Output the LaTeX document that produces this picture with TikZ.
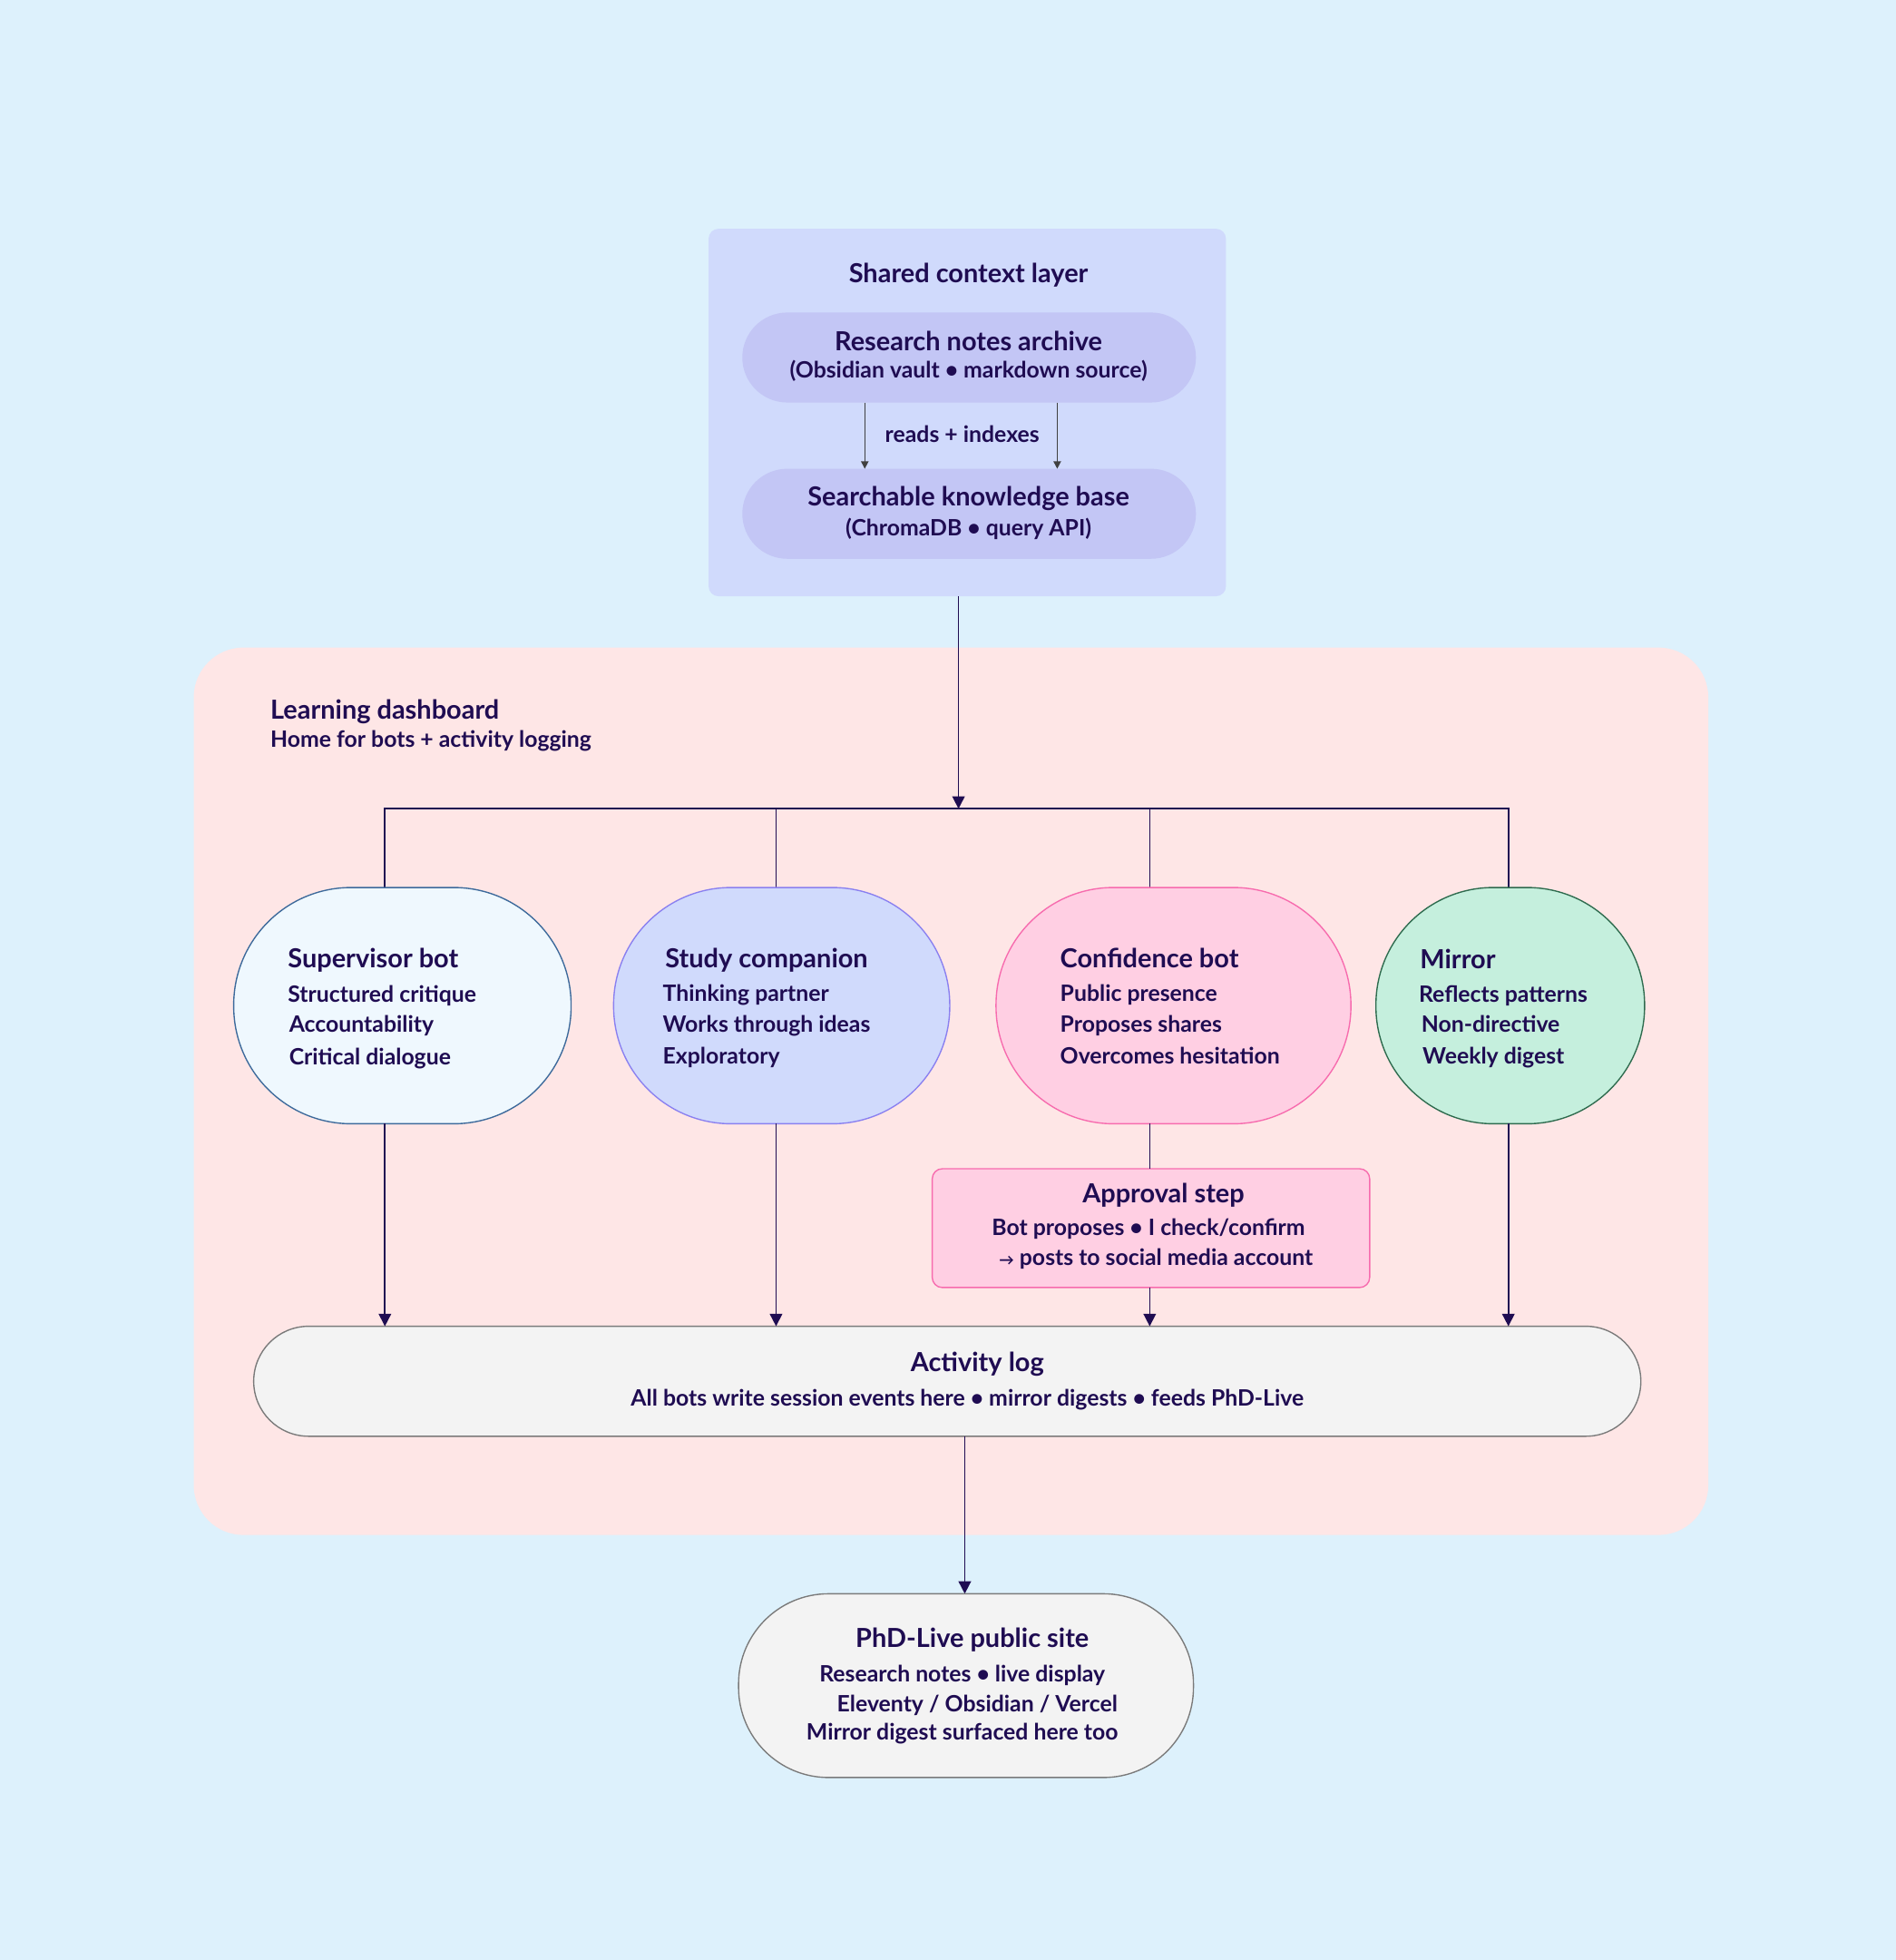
\documentclass[tikz,border=0pt]{standalone}
\usepackage{fontspec}
\setmainfont{Lato}
\usetikzlibrary{arrows.meta}
\definecolor{bg}{HTML}{DDF1FC}
\definecolor{ink}{HTML}{1F0C52}
\definecolor{ctx}{HTML}{D0DAFC}
\definecolor{pill}{HTML}{C3C6F5}
\definecolor{dashbg}{HTML}{FEE6E6}
\definecolor{supf}{HTML}{EFF8FE}\definecolor{sups}{HTML}{3D6A9B}
\definecolor{stuf}{HTML}{D0DAFC}\definecolor{stus}{HTML}{8A80F0}
\definecolor{conf}{HTML}{FFCFE3}\definecolor{cons}{HTML}{F76BAE}
\definecolor{mirf}{HTML}{C5EFDD}\definecolor{mirs}{HTML}{2E6B4E}
\definecolor{logf}{HTML}{F3F3F3}\definecolor{logs}{HTML}{7A7A7A}
\tikzset{
 ttl/.style={font=\fontsize{10.5}{12}\selectfont\bfseries,text=ink,inner sep=0pt},
 bdy/.style={font=\fontsize{9}{11}\selectfont\bfseries,text=ink,inner sep=0pt},
 conn/.style={draw=ink,line width=0.6pt},
 arr/.style={conn,-{Triangle[length=5pt,width=5pt]}},
 smarr/.style={draw=black!75,line width=0.5pt,-{Triangle[length=3pt,width=3pt]}}
}
\begin{document}
\begin{tikzpicture}[x=0.5pt,y=-0.5pt]
\fill[bg] (0,0) rectangle (1517,1568);
\useasboundingbox (0,0) rectangle (1517,1568);
% shared context
\fill[ctx,rounded corners=4pt] (567,183) rectangle (981,477);
\node[ttl] (ctxt) at (775,220) {Shared context layer};
\fill[pill,rounded corners=18pt] (594,250) rectangle (957,322);
\node[ttl] (rn) at (775,273) {Research notes archive};
\node[bdy] (rn2) at (775,297) {(Obsidian vault • markdown source)};
\fill[pill,rounded corners=18pt] (594,375) rectangle (957,447);
\node[ttl] (kb) at (775,399) {Searchable knowledge base};
\node[bdy] (kb2) at (775,423) {(ChromaDB • query API)};
\coordinate (a1) at (692,322);\coordinate (a2) at (692,375);
\coordinate (b1) at (846,322);\coordinate (b2) at (846,375);
\draw[smarr] (a1)--(a2); \draw[smarr] (b1)--(b2);
\node[bdy] (ri) at (770,347) {reads + indexes};
% dashboard
\fill[dashbg,rounded corners=20pt] (155,518) rectangle (1367,1228);
\node[ttl,anchor=base west] (dt) at (216,575) {Learning dashboard};
\node[bdy,anchor=base west] (ds) at (216,598) {Home for bots + activity logging};
% bus
\coordinate (top) at (767,477); \coordinate (bus) at (767,647);
\draw[arr] (top)--(bus);
\draw[conn] (308,710) -- (308,647) -- (1207,647) -- (1207,710);
\draw[conn] (621,647)--(621,710);
\draw[conn] (920,647)--(920,710);
% bots
\draw[fill=supf,draw=sups,line width=0.5pt,rounded corners=47pt] (187,710) rectangle (457,899);
\draw[fill=stuf,draw=stus,line width=0.5pt,rounded corners=47pt] (491,710) rectangle (760,899);
\draw[fill=conf,draw=cons,line width=0.5pt,rounded corners=47pt] (797,710) rectangle (1081,899);
\draw[fill=mirf,draw=mirs,line width=0.5pt,rounded corners=47pt] (1101,710) rectangle (1316,899);
\node[ttl,anchor=base west] (s0) at (230,774) {Supervisor bot};
\node[bdy,anchor=base west] (s1) at (230,802) {Structured critique};
\node[bdy,anchor=base west] (s2) at (231,826) {Accountability};
\node[bdy,anchor=base west] (s3) at (231,852) {Critical dialogue};
\node[ttl,anchor=base west] (t0) at (532,774) {Study companion};
\node[bdy,anchor=base west] (t1) at (530,801) {Thinking partner};
\node[bdy,anchor=base west] (t2) at (530,826) {Works through ideas};
\node[bdy,anchor=base west] (t3) at (530,851) {Exploratory};
\node[ttl,anchor=base west] (c0) at (848,774) {Confidence bot};
\node[bdy,anchor=base west] (c1) at (848,801) {Public presence};
\node[bdy,anchor=base west] (c2) at (848,826) {Proposes shares};
\node[bdy,anchor=base west] (c3) at (848,851) {Overcomes hesitation};
\node[ttl,anchor=base west] (m0) at (1136,775) {Mirror};
\node[bdy,anchor=base west] (m1) at (1135,802) {Reflects patterns};
\node[bdy,anchor=base west] (m2) at (1137,826) {Non-directive};
\node[bdy,anchor=base west] (m3) at (1138,851) {Weekly digest};
% approval
\draw[fill=conf,draw=cons,line width=0.5pt,rounded corners=4pt] (746,935) rectangle (1096,1030);
\node[ttl] (ap0) at (931,956) {Approval step};
\node[bdy] (ap1) at (919,983) {Bot proposes • I check/confirm};
\node[bdy] (ap2) at (925,1007) {{\fontsize{6}{7}\selectfont →} posts to social media account};
% log
\draw[fill=logf,draw=logs,line width=0.5pt,rounded corners=22pt] (203,1061) rectangle (1313,1149);
\node[ttl] (l0) at (782,1091) {Activity log};
\node[bdy] (l1) at (774,1120) {All bots write session events here • mirror digests • feeds PhD-Live};
\draw[arr] (308,899)--(308,1061);
\draw[arr] (621,899)--(621,1061);
\draw[conn] (920,899)--(920,935);
\draw[arr] (920,1030)--(920,1061);
\draw[arr] (1207,899)--(1207,1061);
\draw[arr] (772,1149)--(772,1275);
% phd live
\draw[fill=logf,draw=logs,line width=0.5pt,rounded corners=36pt] (591,1275) rectangle (955,1422);
\node[ttl] (p0) at (778,1312) {PhD-Live public site};
\node[bdy] (p1) at (770,1340) {Research notes • live display};
\node[bdy] (p2) at (782,1364) {Eleventy / Obsidian / Vercel};
\node[bdy] (p3) at (770,1387) {Mirror digest surfaced here too};
\end{tikzpicture}
\end{document}
